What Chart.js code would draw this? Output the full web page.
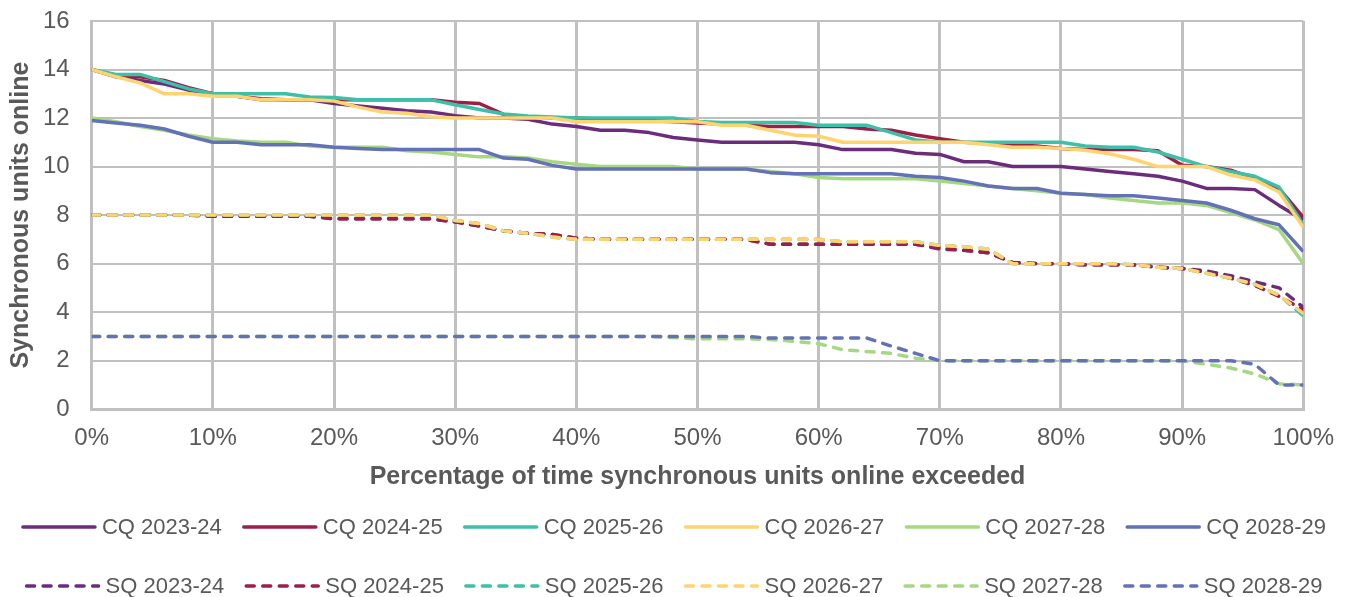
<!DOCTYPE html>
<html lang="en">
<head>
<meta charset="UTF-8">
<title>Synchronous units online</title>
<script src="https://cdn.jsdelivr.net/npm/chart.js"></script>
<style>
  html, body { margin: 0; padding: 0; background: #fff; }
  #wrap { width: 1349px; height: 597px; }
</style>
</head>
<body>
<div id="wrap"><canvas id="chart"></canvas></div>
<script>
// percentage of time exceeded (x)
const pct = [0, 2, 4, 6, 8, 10, 12, 14, 16, 18, 20, 22, 24, 26, 28, 30, 32, 34, 36, 38, 40, 42, 44, 46, 48, 50,
  52, 54, 56, 58, 60, 62, 64, 66, 68, 70, 72, 74, 76, 78, 80, 82, 84, 86, 88, 90, 92, 94, 96, 98, 100];

// CQ series
const cq2324 = [14.0, 13.7, 13.55, 13.4, 13.15, 13.0, 12.9, 12.75, 12.75, 12.75, 12.6, 12.5, 12.4, 12.3, 12.25, 12.1, 12.0, 12.0, 11.95, 11.75, 11.65, 11.5, 11.5, 11.4, 11.2, 11.1,
  11.0, 11.0, 11.0, 11.0, 10.9, 10.7, 10.7, 10.7, 10.55, 10.5, 10.2, 10.2, 10.0, 10.0, 10.0, 9.9, 9.8, 9.7, 9.6, 9.4, 9.1, 9.1, 9.05, 8.4, 7.8];
const cq2425 = [14.0, 13.75, 13.7, 13.55, 13.25, 13.0, 12.9, 12.8, 12.75, 12.75, 12.75, 12.75, 12.75, 12.75, 12.75, 12.65, 12.6, 12.15, 12.05, 12.0, 12.0, 11.95, 11.95, 11.9, 11.85, 11.8,
  11.75, 11.7, 11.65, 11.65, 11.65, 11.65, 11.55, 11.5, 11.3, 11.15, 11.0, 10.95, 10.9, 10.85, 10.75, 10.7, 10.7, 10.7, 10.65, 10.05, 10.0, 9.85, 9.5, 9.1, 7.9];
const cq2526 = [14.0, 13.8, 13.8, 13.5, 13.2, 13.0, 13.0, 13.0, 13.0, 12.87, 12.85, 12.75, 12.75, 12.75, 12.75, 12.55, 12.35, 12.17, 12.08, 12.04, 12.0, 12.0, 12.0, 12.0, 12.0, 11.86,
  11.82, 11.82, 11.82, 11.82, 11.7, 11.7, 11.7, 11.4, 11.1, 11.0, 11.0, 11.0, 11.0, 11.0, 11.0, 10.85, 10.8, 10.8, 10.6, 10.3, 10.0, 9.8, 9.6, 9.15, 7.6];
const cq2627 = [14.0, 13.7, 13.45, 13.0, 13.0, 12.9, 12.9, 12.75, 12.75, 12.75, 12.7, 12.45, 12.25, 12.2, 12.05, 12.0, 12.0, 12.0, 12.0, 12.0, 11.85, 11.85, 11.85, 11.85, 11.85, 11.85,
  11.7, 11.7, 11.5, 11.3, 11.25, 11.0, 11.0, 11.0, 11.0, 11.0, 11.0, 10.9, 10.8, 10.8, 10.75, 10.67, 10.53, 10.3, 10.0, 10.0, 10.0, 9.65, 9.45, 8.95, 7.5];
const cq2728 = [12.0, 11.85, 11.65, 11.5, 11.3, 11.15, 11.05, 11.0, 11.0, 10.85, 10.8, 10.8, 10.8, 10.65, 10.6, 10.5, 10.4, 10.4, 10.35, 10.2, 10.1, 10.0, 10.0, 10.0, 10.0, 9.9,
  9.9, 9.9, 9.8, 9.7, 9.55, 9.5, 9.5, 9.5, 9.5, 9.4, 9.3, 9.2, 9.1, 9.0, 8.9, 8.85, 8.7, 8.6, 8.5, 8.5, 8.4, 8.1, 7.8, 7.4, 6.0];
const cq2829 = [11.9, 11.8, 11.7, 11.55, 11.25, 11.0, 11.0, 10.9, 10.9, 10.9, 10.8, 10.75, 10.7, 10.7, 10.7, 10.7, 10.7, 10.35, 10.3, 10.05, 9.9, 9.9, 9.9, 9.9, 9.9, 9.9,
  9.9, 9.9, 9.75, 9.7, 9.7, 9.7, 9.7, 9.7, 9.6, 9.55, 9.4, 9.2, 9.1, 9.1, 8.9, 8.85, 8.8, 8.8, 8.7, 8.6, 8.5, 8.2, 7.85, 7.6, 6.5];

// SQ series
const sq2324 = [8.0, 8.0, 8.0, 8.0, 8.0, 7.95, 7.95, 7.95, 7.95, 7.95, 7.85, 7.85, 7.85, 7.85, 7.85, 7.72, 7.55, 7.35, 7.25, 7.2, 7.05, 7.0, 7.0, 7.0, 7.0, 7.0,
  7.0, 7.0, 6.8, 6.8, 6.8, 6.8, 6.8, 6.8, 6.8, 6.6, 6.55, 6.45, 6.05, 6.0, 6.0, 5.95, 5.95, 5.95, 5.85, 5.8, 5.7, 5.5, 5.25, 5.0, 4.2];
const sq2425 = [8.0, 8.0, 8.0, 8.0, 8.0, 7.95, 7.95, 7.95, 7.95, 7.95, 7.85, 7.85, 7.85, 7.85, 7.85, 7.72, 7.55, 7.35, 7.25, 7.2, 7.05, 7.0, 7.0, 7.0, 7.0, 7.0,
  7.0, 7.0, 6.8, 6.8, 6.8, 6.8, 6.8, 6.8, 6.8, 6.65, 6.55, 6.45, 6.05, 6.0, 6.0, 5.95, 5.95, 5.95, 5.85, 5.8, 5.65, 5.4, 5.1, 4.65, 4.1];
const sq2526 = [8.0, 8.0, 8.0, 8.0, 8.0, 8.0, 8.0, 8.0, 8.0, 8.0, 8.0, 8.0, 8.0, 8.0, 8.0, 7.78, 7.65, 7.35, 7.25, 7.1, 7.0, 7.0, 7.0, 7.0, 7.0, 7.0,
  7.0, 7.0, 7.0, 7.0, 7.0, 6.9, 6.9, 6.9, 6.9, 6.75, 6.7, 6.6, 6.0, 6.0, 6.0, 6.0, 6.0, 5.95, 5.85, 5.8, 5.6, 5.4, 5.15, 4.7, 3.85];
const sq2627 = [8.0, 8.0, 8.0, 8.0, 8.0, 8.0, 8.0, 8.0, 8.0, 8.0, 8.0, 8.0, 8.0, 8.0, 8.0, 7.78, 7.65, 7.35, 7.25, 7.1, 7.0, 7.0, 7.0, 7.0, 7.0, 7.0,
  7.0, 7.0, 7.0, 7.0, 7.0, 6.9, 6.9, 6.9, 6.9, 6.75, 6.7, 6.6, 6.0, 6.0, 6.0, 6.0, 6.0, 5.95, 5.85, 5.8, 5.6, 5.4, 5.15, 4.7, 3.95];
const sq2728 = [3.0, 3.0, 3.0, 3.0, 3.0, 3.0, 3.0, 3.0, 3.0, 3.0, 3.0, 3.0, 3.0, 3.0, 3.0, 3.0, 3.0, 3.0, 3.0, 3.0, 3.0, 3.0, 3.0, 3.0, 2.95, 2.9,
  2.9, 2.9, 2.87, 2.8, 2.7, 2.45, 2.38, 2.3, 2.1, 2.0, 2.0, 2.0, 2.0, 2.0, 2.0, 2.0, 2.0, 2.0, 2.0, 2.0, 1.85, 1.7, 1.45, 1.05, 1.0];
const sq2829 = [3.0, 3.0, 3.0, 3.0, 3.0, 3.0, 3.0, 3.0, 3.0, 3.0, 3.0, 3.0, 3.0, 3.0, 3.0, 3.0, 3.0, 3.0, 3.0, 3.0, 3.0, 3.0, 3.0, 3.0, 3.0, 3.0,
  3.0, 3.0, 2.93, 2.93, 2.93, 2.93, 2.93, 2.6, 2.3, 2.0, 2.0, 2.0, 2.0, 2.0, 2.0, 2.0, 2.0, 2.0, 2.0, 2.0, 2.0, 2.0, 1.85, 1.0, 1.0];

const yTicks = [0, 2, 4, 6, 8, 10, 12, 14, 16];
const xTicks = [0, 10, 20, 30, 40, 50, 60, 70, 80, 90, 100];

const PURPLE = '#6B2D7B', RED = '#9E1F45', TEAL = '#3DC0A9', YELLOW = '#FFD36F', GREEN = '#A6D882', BLUE = '#6371B6';
const DASH = [8, 8.5];

const series = [
  { label: 'CQ 2023-24', data: cq2324, color: PURPLE, dash: [] },
  { label: 'CQ 2024-25', data: cq2425, color: RED, dash: [] },
  { label: 'CQ 2025-26', data: cq2526, color: TEAL, dash: [] },
  { label: 'CQ 2026-27', data: cq2627, color: YELLOW, dash: [] },
  { label: 'CQ 2027-28', data: cq2728, color: GREEN, dash: [] },
  { label: 'CQ 2028-29', data: cq2829, color: BLUE, dash: [] },
  { label: 'SQ 2023-24', data: sq2324, color: PURPLE, dash: DASH },
  { label: 'SQ 2024-25', data: sq2425, color: RED, dash: DASH },
  { label: 'SQ 2025-26', data: sq2526, color: TEAL, dash: DASH },
  { label: 'SQ 2026-27', data: sq2627, color: YELLOW, dash: DASH },
  { label: 'SQ 2027-28', data: sq2728, color: GREEN, dash: DASH },
  { label: 'SQ 2028-29', data: sq2829, color: BLUE, dash: DASH }
];

const FONT = '"Liberation Sans", Arial, sans-serif';
const TEXT = '#595959';
const GRID = '#C0C0C0';

// two-row legend drawn under the axis
const legendRows = {
  id: 'legendRows',
  afterDraw(chart) {
    const ctx = chart.ctx;
    const sets = chart.data.datasets;
    const perRow = 6, lineLen = 72, gapText = 7, gapItem = 22;
    const rowY = [527, 586];
    ctx.save();
    ctx.font = '22px ' + FONT;
    ctx.textBaseline = 'middle';
    const widths = sets.map(d => lineLen + gapText + ctx.measureText(d.label).width);
    for (let r = 0; r < rowY.length; r++) {
      const idx = [];
      for (let i = r * perRow; i < Math.min(sets.length, (r + 1) * perRow); i++) idx.push(i);
      const rowW = idx.reduce((s, i) => s + widths[i], 0) + gapItem * (idx.length - 1);
      let x = (chart.width - rowW) / 2;
      idx.forEach(i => {
        const d = sets[i];
        ctx.strokeStyle = d.borderColor;
        ctx.lineWidth = 3.5;
        ctx.lineCap = 'round';
        ctx.setLineDash(d.borderDash || []);
        ctx.beginPath();
        ctx.moveTo(x, rowY[r]);
        ctx.lineTo(x + lineLen, rowY[r]);
        ctx.stroke();
        ctx.setLineDash([]);
        ctx.fillStyle = TEXT;
        ctx.fillText(d.label, x + lineLen + gapText, rowY[r] + 1);
        x += widths[i] + gapItem;
      });
    }
    ctx.restore();
  }
};

const ctx = document.getElementById('chart').getContext('2d');
new Chart(ctx, {
  type: 'line',
  data: {
    datasets: series.map((s, i) => ({
      label: s.label,
      data: pct.map((p, k) => ({ x: p, y: s.data[k] })),
      borderColor: s.color,
      backgroundColor: s.color,
      borderWidth: 3.5,
      borderDash: s.dash,
      borderCapStyle: s.dash.length ? 'round' : 'butt',
      borderJoinStyle: 'round',
      pointRadius: 0,
      tension: 0,
      order: -i  // later series on top, as in the original
    }))
  },
  options: {
    responsive: true,
    maintainAspectRatio: false,
    animation: false,
    layout: { autoPadding: false, padding: { left: 0, right: 45, top: 21, bottom: 104 } },
    plugins: {
      legend: { display: false },
      tooltip: { enabled: false }
    },
    scales: {
      x: {
        type: 'linear',
        min: 0,
        max: 100,
        afterBuildTicks: axis => { axis.ticks = xTicks.map(v => ({ value: v })); },
        ticks: {
          color: TEXT,
          font: { family: FONT, size: 24 },
          padding: 15,
          maxRotation: 0,
          callback: v => v + '%'
        },
        grid: { color: GRID, lineWidth: 3, drawTicks: false },
        border: { color: GRID, width: 3 },
        title: {
          display: true,
          text: 'Percentage of time synchronous units online exceeded',
          color: TEXT,
          font: { family: FONT, size: 25, weight: 'bold' },
          padding: { top: -6, bottom: 1 }
        }
      },
      y: {
        min: 0,
        max: 16,
        afterBuildTicks: axis => { axis.ticks = yTicks.map(v => ({ value: v })); },
        // the top label may overhang the plot, as in the original
        afterFit: axis => { axis.paddingTop = 0; axis.paddingBottom = 0; },
        ticks: {
          color: TEXT,
          font: { family: FONT, size: 24 },
          padding: 22
        },
        grid: { color: GRID, lineWidth: 2, drawTicks: false },
        border: { color: GRID, width: 3 },
        title: {
          display: true,
          text: 'Synchronous units online',
          color: TEXT,
          font: { family: FONT, size: 25, weight: 'bold' },
          padding: { top: 6, bottom: -15 }
        }
      }
    }
  },
  plugins: [legendRows]
});
</script>
</body>
</html>
